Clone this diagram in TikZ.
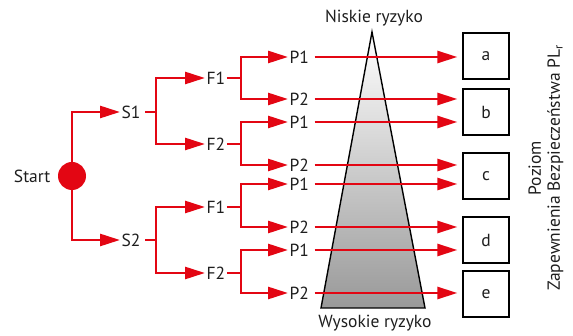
\documentclass[tikz,border=0pt]{standalone}
\usepackage{fontspec}
\setmainfont{PT Sans}
\usetikzlibrary{arrows.meta}
\definecolor{flowred}{RGB}{227,6,19}
\definecolor{inkgray}{RGB}{30,30,30}
\begin{document}
\begin{tikzpicture}[x=1pt,y=-1pt,
  lbl/.style={font=\fontsize{17.5}{19}\selectfont, text=inkgray, inner sep=1.5pt},
  wire/.style={draw=flowred, line width=2.6pt},
  arr/.style={wire, -{Triangle[length=20pt,width=12pt]}},
  plbox/.style={draw=black, line width=1.3pt, minimum width=46pt, minimum height=46pt, lbl, inner sep=0pt},
]
\useasboundingbox (0,0) rectangle (573,336);

% risk pyramid
\coordinate (apex) at (372,32);
\coordinate (bl) at (321,308);
\coordinate (br) at (425,308);
\shade[top color=white, bottom color=black!40] (apex) -- (br) -- (bl) -- cycle;
\draw[black, line width=1.4pt, line join=miter] (apex) -- (br) -- (bl) -- cycle;
\node[lbl] (low) at (374,18) {Niskie ryzyko};
\node[lbl] (high) at (375,323) {Wysokie ryzyko};

% start point
\node[circle, fill=flowred, minimum size=28pt, inner sep=0pt] (start) at (72,176) {};
\node[lbl, anchor=east] (startlbl) at (52,176) {Start};

% first level
\node[lbl, anchor=west] (s1) at (120,112) {S1};
\node[lbl, anchor=west] (s2) at (120,240) {S2};
\draw[arr] (start) |- (s1.west);
\draw[arr] (start) |- (s2.west);

% second level
\node[lbl, anchor=west] (f11) at (205,78) {F1};
\node[lbl, anchor=west] (f12) at (205,144) {F2};
\node[lbl, anchor=west] (f21) at (205,207) {F1};
\node[lbl, anchor=west] (f22) at (205,273) {F2};
\coordinate (js1) at (156,112);
\coordinate (js2) at (156,240);
\draw[wire, shorten <=3pt] (s1.east) -- (js1);
\draw[wire, shorten <=3pt] (s2.east) -- (js2);
\draw[arr] (js1) |- (f11.west);
\draw[arr] (js1) |- (f12.west);
\draw[arr] (js2) |- (f21.west);
\draw[arr] (js2) |- (f22.west);

% third level
\foreach \f/\y/\ya/\yb in {f11/78/57/99, f12/144/122/165, f21/207/184/227, f22/273/250/293}{
  \node[lbl, anchor=west] (\f p1) at (288,\ya) {P1};
  \node[lbl, anchor=west] (\f p2) at (288,\yb) {P2};
  \coordinate (\f j) at (241,\y);
  \draw[wire] (\f.east) -- (\f j);
  \draw[arr] (\f j) |- (\f p1.west);
  \draw[arr] (\f j) |- (\f p2.west);
}

% performance levels
\node[plbox] (a) at (486,56) {a};
\node[plbox] (b) at (486,112) {b};
\node[plbox] (c) at (486,176) {c};
\node[plbox] (d) at (486,240) {d};
\node[plbox] (e) at (486,294) {e};

\draw[arr, shorten <=4pt, shorten >=5pt] (f11p1.east) -- (f11p1.east -| a.west);
\draw[arr, shorten <=4pt, shorten >=5pt] (f11p2.east) -- (f11p2.east -| b.west);
\draw[arr, shorten <=4pt, shorten >=5pt] (f12p1.east) -- (f12p1.east -| b.west);
\draw[arr, shorten <=4pt, shorten >=5pt] (f12p2.east) -- (f12p2.east -| c.west);
\draw[arr, shorten <=4pt, shorten >=5pt] (f21p1.east) -- (f21p1.east -| c.west);
\draw[arr, shorten <=4pt, shorten >=5pt] (f21p2.east) -- (f21p2.east -| d.west);
\draw[arr, shorten <=4pt, shorten >=5pt] (f22p1.east) -- (f22p1.east -| d.west);
\draw[arr, shorten <=4pt, shorten >=5pt] (f22p2.east) -- (f22p2.east -| e.west);

\node[lbl, rotate=90, align=center] (plr) at (546,168) {Poziom\\Zapewnienia Bezpieczeństwa PL\textsubscript{r}};
\end{tikzpicture}
\end{document}
